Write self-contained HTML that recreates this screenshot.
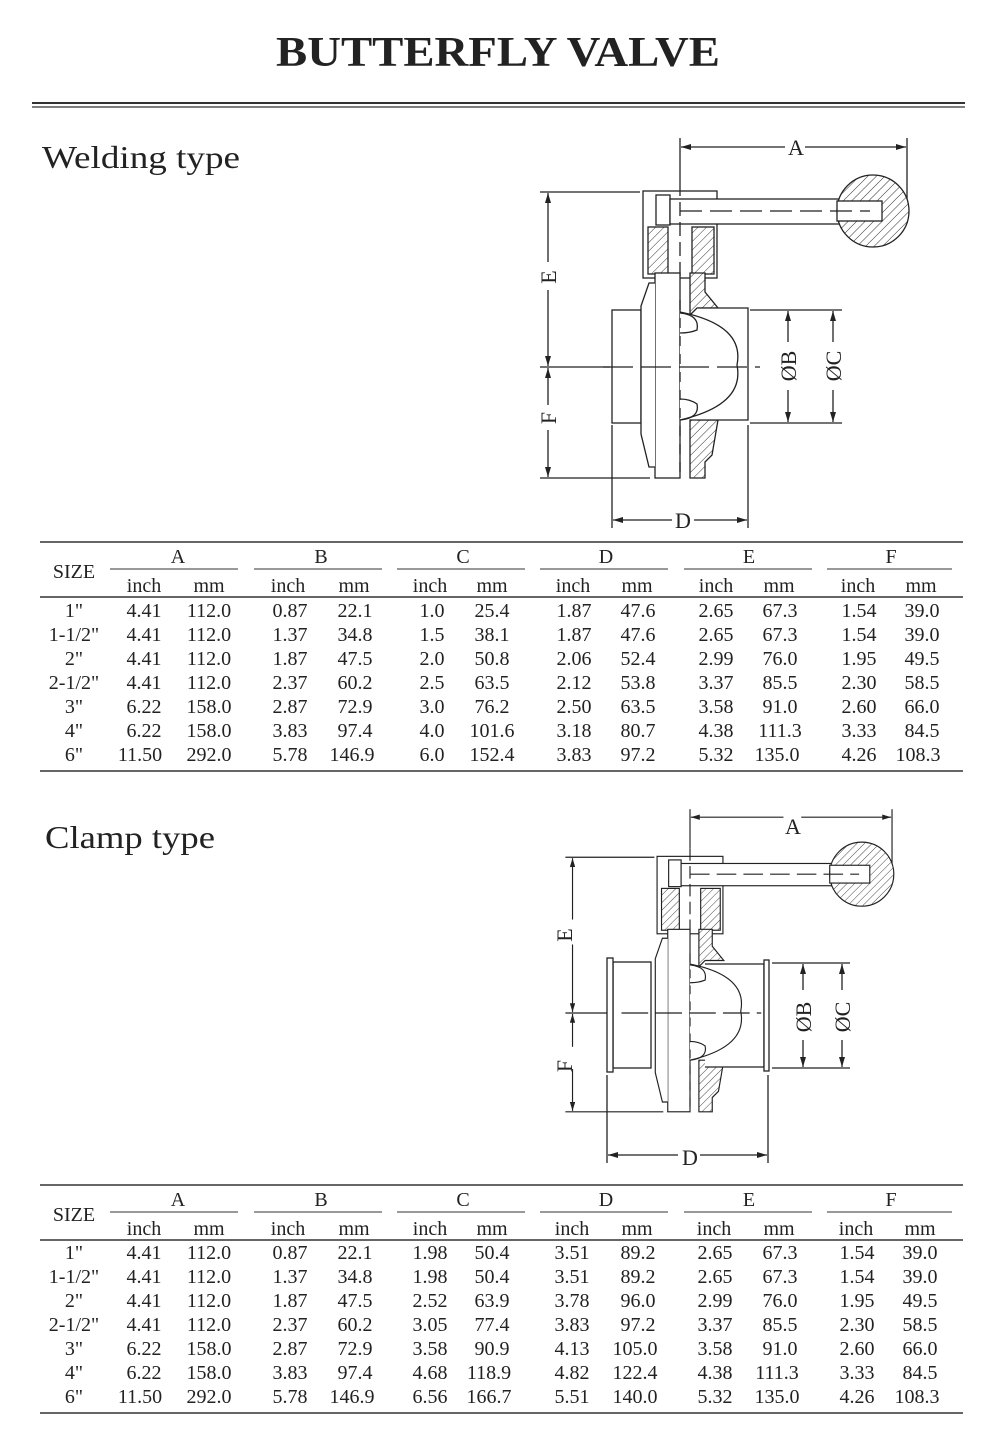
<!DOCTYPE html>
<html><head><meta charset="utf-8"><style>
html,body{margin:0;padding:0;background:#fff;}
svg{display:block;}
text{font-family:"Liberation Serif",serif;fill:#222;}
</style></head><body>
<svg width="1000" height="1453" viewBox="0 0 1000 1453" xmlns="http://www.w3.org/2000/svg">
<defs>
<pattern id="h" width="6" height="6" patternUnits="userSpaceOnUse" patternTransform="rotate(45)">
<rect width="6" height="6" fill="#fff"/><line x1="0" y1="0" x2="0" y2="6" stroke="#333" stroke-width="1"/></pattern>
<marker id="ar" markerWidth="10" markerHeight="6" refX="10" refY="3" orient="auto-start-reverse" markerUnits="userSpaceOnUse">
<path d="M0,0 L10,3 L0,6 z" fill="#222"/></marker>
<g id="valve" stroke="#222" stroke-width="1.3" fill="none">
<line x1="680" y1="138" x2="680" y2="182"/>
<line x1="907" y1="138" x2="907" y2="200"/>
<line x1="681" y1="147" x2="785" y2="147" marker-start="url(#ar)"/>
<line x1="805" y1="147" x2="906" y2="147" marker-end="url(#ar)"/>
<line x1="540" y1="192" x2="640" y2="192"/>
<line x1="540" y1="367" x2="610" y2="367"/>
<line x1="540" y1="478" x2="650" y2="478"/>
<line x1="548" y1="193" x2="548" y2="262" marker-start="url(#ar)"/>
<line x1="548" y1="290" x2="548" y2="366" marker-end="url(#ar)"/>
<line x1="548" y1="368" x2="548" y2="405" marker-start="url(#ar)"/>
<line x1="548" y1="430" x2="548" y2="477" marker-end="url(#ar)"/>
<rect x="643" y="191" width="74" height="87"/>
<rect x="648" y="227" width="20" height="47" fill="url(#h)"/>
<rect x="692" y="227" width="22" height="47" fill="url(#h)"/>
<rect x="656" y="195" width="14" height="30" fill="#fff"/>
<rect x="670" y="199" width="170" height="25" fill="#fff"/>
<circle cx="873" cy="211" r="36" fill="url(#h)"/>
<rect x="837" y="201" width="45" height="20" fill="#fff"/>
<line x1="680" y1="211" x2="870" y2="211" stroke-dasharray="22,8"/>
<line x1="680" y1="182" x2="680" y2="280" stroke-dasharray="14,6"/>
<path d="M690,273 L705,273 L705,292 L718,308 L697,308 L690,315 z" fill="url(#h)"/>
<path d="M690,420 L718,420 L712,455 L705,462 L705,478 L690,478 z" fill="url(#h)"/>
</g>
<g id="core" stroke="#222" stroke-width="1.3" fill="none">
<rect x="655" y="273" width="25" height="205" fill="#fff"/>
<path d="M655,283 L649,283 L641,306 L641,434 L649,467 L655,467" fill="#fff"/>
<path d="M680,312 Q745,325 737,365 Q745,405 680,420" fill="#fff"/>
<path d="M680,313 Q700,315 697,330 Q690,333 680,333"/>
<path d="M680,399 Q690,399 697,404 Q700,418 680,420"/>
<line x1="603" y1="367" x2="760" y2="367" stroke-dasharray="30,8"/>
<line x1="680" y1="300" x2="680" y2="480" stroke-dasharray="10,8"/>
</g>
</defs>

<text x="276" y="66" font-size="42" font-weight="bold" textLength="444" lengthAdjust="spacingAndGlyphs" fill="#333">BUTTERFLY VALVE</text>
<line x1="32" y1="103" x2="965" y2="103" stroke="#333" stroke-width="2"/>
<line x1="32" y1="107" x2="965" y2="107" stroke="#333" stroke-width="1.2"/>

<text x="42" y="168" font-size="32" textLength="198" lengthAdjust="spacingAndGlyphs">Welding type</text>
<text x="45" y="848" font-size="32" textLength="170" lengthAdjust="spacingAndGlyphs">Clamp type</text>

<!-- welding -->
<use href="#valve"/>
<g stroke="#222" stroke-width="1.3" fill="none">
<rect x="612" y="310" width="29" height="113" fill="#fff"/>
<path d="M697,308 L748,308 L748,420 L697,420" fill="#fff"/>
</g>
<use href="#core"/>
<g stroke="#222" stroke-width="1.3" fill="none">
<line x1="612" y1="425" x2="612" y2="528"/>
<line x1="748" y1="425" x2="748" y2="528"/>
<line x1="613" y1="520" x2="672" y2="520" marker-start="url(#ar)"/>
<line x1="694" y1="520" x2="747" y2="520" marker-end="url(#ar)"/>
<line x1="750" y1="310" x2="842" y2="310"/>
<line x1="750" y1="423" x2="842" y2="423"/>
<line x1="788" y1="311" x2="788" y2="342" marker-start="url(#ar)"/>
<line x1="788" y1="390" x2="788" y2="422" marker-end="url(#ar)"/>
<line x1="833" y1="311" x2="833" y2="342" marker-start="url(#ar)"/>
<line x1="833" y1="390" x2="833" y2="422" marker-end="url(#ar)"/>
</g>
<g font-size="22">
<text x="796" y="155" text-anchor="middle">A</text>
<text x="683" y="528" text-anchor="middle">D</text>
<text transform="translate(556,277) rotate(-90)" text-anchor="middle">E</text>
<text transform="translate(556,418) rotate(-90)" text-anchor="middle">F</text>
<text transform="translate(796,366) rotate(-90)" text-anchor="middle">ØB</text>
<text transform="translate(841,366) rotate(-90)" text-anchor="middle">ØC</text>
</g>

<!-- clamp -->
<use href="#valve" transform="translate(690,1013) scale(0.89) translate(-680,-367)"/>
<g stroke="#222" stroke-width="1.3" fill="none">
<rect x="613" y="962" width="38" height="106" fill="#fff"/>
<rect x="607" y="958" width="6" height="114" fill="#fff"/>
<path d="M705,964 L764,964 L764,1067 L705,1067" fill="#fff"/>
<rect x="764" y="960" width="5" height="111" fill="#fff"/>
</g>
<use href="#core" transform="translate(690,1013) scale(0.89) translate(-680,-367)"/>
<g stroke="#222" stroke-width="1.3" fill="none">
<line x1="607" y1="1075" x2="607" y2="1163"/>
<line x1="768" y1="1075" x2="768" y2="1163"/>
<line x1="608" y1="1155" x2="678" y2="1155" marker-start="url(#ar)"/>
<line x1="700" y1="1155" x2="767" y2="1155" marker-end="url(#ar)"/>
<line x1="772" y1="963" x2="850" y2="963"/>
<line x1="772" y1="1068" x2="850" y2="1068"/>
<line x1="803" y1="964" x2="803" y2="990" marker-start="url(#ar)"/>
<line x1="803" y1="1040" x2="803" y2="1067" marker-end="url(#ar)"/>
<line x1="842" y1="964" x2="842" y2="990" marker-start="url(#ar)"/>
<line x1="842" y1="1040" x2="842" y2="1067" marker-end="url(#ar)"/>
</g>
<g font-size="22">
<text x="793" y="834" text-anchor="middle">A</text>
<text x="690" y="1165" text-anchor="middle">D</text>
<text transform="translate(572,935) rotate(-90)" text-anchor="middle">E</text>
<text transform="translate(572,1066) rotate(-90)" text-anchor="middle">F</text>
<text transform="translate(811,1017) rotate(-90)" text-anchor="middle">ØB</text>
<text transform="translate(850,1017) rotate(-90)" text-anchor="middle">ØC</text>
</g>

<!-- TABLE 1 -->
<g stroke="#333" fill="none">
<line x1="40" y1="542" x2="963" y2="542" stroke-width="1.5"/>
<line x1="40" y1="597" x2="963" y2="597" stroke-width="1.5"/>
<line x1="40" y1="771" x2="963" y2="771" stroke-width="1.5"/>
<line x1="110" y1="569" x2="238" y2="569"/><line x1="254" y1="569" x2="382" y2="569"/>
<line x1="397" y1="569" x2="525" y2="569"/><line x1="540" y1="569" x2="668" y2="569"/>
<line x1="684" y1="569" x2="812" y2="569"/><line x1="827" y1="569" x2="952" y2="569"/>
</g>
<g font-size="20" text-anchor="middle">
<text x="74" y="578">SIZE</text>
<text x="178" y="563">A</text><text x="321" y="563">B</text><text x="463" y="563">C</text>
<text x="606" y="563">D</text><text x="749" y="563">E</text><text x="891" y="563">F</text>
<text x="144" y="592">inch</text><text x="209" y="592">mm</text>
<text x="288" y="592">inch</text><text x="354" y="592">mm</text>
<text x="430" y="592">inch</text><text x="492" y="592">mm</text>
<text x="573" y="592">inch</text><text x="637" y="592">mm</text>
<text x="716" y="592">inch</text><text x="779" y="592">mm</text>
<text x="858" y="592">inch</text><text x="921" y="592">mm</text>
</g>
<g font-size="20" text-anchor="middle">
<g transform="translate(0,617)"><text x="74">1"</text><text x="144">4.41</text><text x="209">112.0</text><text x="290">0.87</text><text x="355">22.1</text><text x="432">1.0</text><text x="492">25.4</text><text x="574">1.87</text><text x="638">47.6</text><text x="716">2.65</text><text x="780">67.3</text><text x="859">1.54</text><text x="922">39.0</text></g>
<g transform="translate(0,641)"><text x="74">1-1/2"</text><text x="144">4.41</text><text x="209">112.0</text><text x="290">1.37</text><text x="355">34.8</text><text x="432">1.5</text><text x="492">38.1</text><text x="574">1.87</text><text x="638">47.6</text><text x="716">2.65</text><text x="780">67.3</text><text x="859">1.54</text><text x="922">39.0</text></g>
<g transform="translate(0,665)"><text x="74">2"</text><text x="144">4.41</text><text x="209">112.0</text><text x="290">1.87</text><text x="355">47.5</text><text x="432">2.0</text><text x="492">50.8</text><text x="574">2.06</text><text x="638">52.4</text><text x="716">2.99</text><text x="780">76.0</text><text x="859">1.95</text><text x="922">49.5</text></g>
<g transform="translate(0,689)"><text x="74">2-1/2"</text><text x="144">4.41</text><text x="209">112.0</text><text x="290">2.37</text><text x="355">60.2</text><text x="432">2.5</text><text x="492">63.5</text><text x="574">2.12</text><text x="638">53.8</text><text x="716">3.37</text><text x="780">85.5</text><text x="859">2.30</text><text x="922">58.5</text></g>
<g transform="translate(0,713)"><text x="74">3"</text><text x="144">6.22</text><text x="209">158.0</text><text x="290">2.87</text><text x="355">72.9</text><text x="432">3.0</text><text x="492">76.2</text><text x="574">2.50</text><text x="638">63.5</text><text x="716">3.58</text><text x="780">91.0</text><text x="859">2.60</text><text x="922">66.0</text></g>
<g transform="translate(0,737)"><text x="74">4"</text><text x="144">6.22</text><text x="209">158.0</text><text x="290">3.83</text><text x="355">97.4</text><text x="432">4.0</text><text x="492">101.6</text><text x="574">3.18</text><text x="638">80.7</text><text x="716">4.38</text><text x="780">111.3</text><text x="859">3.33</text><text x="922">84.5</text></g>
<g transform="translate(0,761)"><text x="74">6"</text><text x="140">11.50</text><text x="209">292.0</text><text x="290">5.78</text><text x="352">146.9</text><text x="432">6.0</text><text x="492">152.4</text><text x="574">3.83</text><text x="638">97.2</text><text x="716">5.32</text><text x="777">135.0</text><text x="859">4.26</text><text x="918">108.3</text></g>
</g>

<!-- TABLE 2 -->
<g stroke="#333" fill="none">
<line x1="40" y1="1185" x2="963" y2="1185" stroke-width="1.5"/>
<line x1="40" y1="1240" x2="963" y2="1240" stroke-width="1.5"/>
<line x1="40" y1="1413" x2="963" y2="1413" stroke-width="1.5"/>
<line x1="110" y1="1212" x2="238" y2="1212"/><line x1="254" y1="1212" x2="382" y2="1212"/>
<line x1="397" y1="1212" x2="525" y2="1212"/><line x1="540" y1="1212" x2="668" y2="1212"/>
<line x1="684" y1="1212" x2="812" y2="1212"/><line x1="827" y1="1212" x2="952" y2="1212"/>
</g>
<g font-size="20" text-anchor="middle">
<text x="74" y="1221">SIZE</text>
<text x="178" y="1206">A</text><text x="321" y="1206">B</text><text x="463" y="1206">C</text>
<text x="606" y="1206">D</text><text x="749" y="1206">E</text><text x="891" y="1206">F</text>
<text x="144" y="1235">inch</text><text x="209" y="1235">mm</text>
<text x="288" y="1235">inch</text><text x="354" y="1235">mm</text>
<text x="430" y="1235">inch</text><text x="492" y="1235">mm</text>
<text x="572" y="1235">inch</text><text x="637" y="1235">mm</text>
<text x="714" y="1235">inch</text><text x="779" y="1235">mm</text>
<text x="856" y="1235">inch</text><text x="920" y="1235">mm</text>
</g>
<g font-size="20" text-anchor="middle">
<g transform="translate(0,1259)"><text x="74">1"</text><text x="144">4.41</text><text x="209">112.0</text><text x="290">0.87</text><text x="355">22.1</text><text x="430">1.98</text><text x="492">50.4</text><text x="572">3.51</text><text x="638">89.2</text><text x="715">2.65</text><text x="780">67.3</text><text x="857">1.54</text><text x="920">39.0</text></g>
<g transform="translate(0,1283)"><text x="74">1-1/2"</text><text x="144">4.41</text><text x="209">112.0</text><text x="290">1.37</text><text x="355">34.8</text><text x="430">1.98</text><text x="492">50.4</text><text x="572">3.51</text><text x="638">89.2</text><text x="715">2.65</text><text x="780">67.3</text><text x="857">1.54</text><text x="920">39.0</text></g>
<g transform="translate(0,1307)"><text x="74">2"</text><text x="144">4.41</text><text x="209">112.0</text><text x="290">1.87</text><text x="355">47.5</text><text x="430">2.52</text><text x="492">63.9</text><text x="572">3.78</text><text x="638">96.0</text><text x="715">2.99</text><text x="780">76.0</text><text x="857">1.95</text><text x="920">49.5</text></g>
<g transform="translate(0,1331)"><text x="74">2-1/2"</text><text x="144">4.41</text><text x="209">112.0</text><text x="290">2.37</text><text x="355">60.2</text><text x="430">3.05</text><text x="492">77.4</text><text x="572">3.83</text><text x="638">97.2</text><text x="715">3.37</text><text x="780">85.5</text><text x="857">2.30</text><text x="920">58.5</text></g>
<g transform="translate(0,1355)"><text x="74">3"</text><text x="144">6.22</text><text x="209">158.0</text><text x="290">2.87</text><text x="355">72.9</text><text x="430">3.58</text><text x="492">90.9</text><text x="572">4.13</text><text x="635">105.0</text><text x="715">3.58</text><text x="780">91.0</text><text x="857">2.60</text><text x="920">66.0</text></g>
<g transform="translate(0,1379)"><text x="74">4"</text><text x="144">6.22</text><text x="209">158.0</text><text x="290">3.83</text><text x="355">97.4</text><text x="430">4.68</text><text x="489">118.9</text><text x="572">4.82</text><text x="635">122.4</text><text x="715">4.38</text><text x="777">111.3</text><text x="857">3.33</text><text x="920">84.5</text></g>
<g transform="translate(0,1403)"><text x="74">6"</text><text x="140">11.50</text><text x="209">292.0</text><text x="290">5.78</text><text x="352">146.9</text><text x="430">6.56</text><text x="489">166.7</text><text x="572">5.51</text><text x="635">140.0</text><text x="715">5.32</text><text x="777">135.0</text><text x="857">4.26</text><text x="917">108.3</text></g>
</g>
</svg>
</body></html>
